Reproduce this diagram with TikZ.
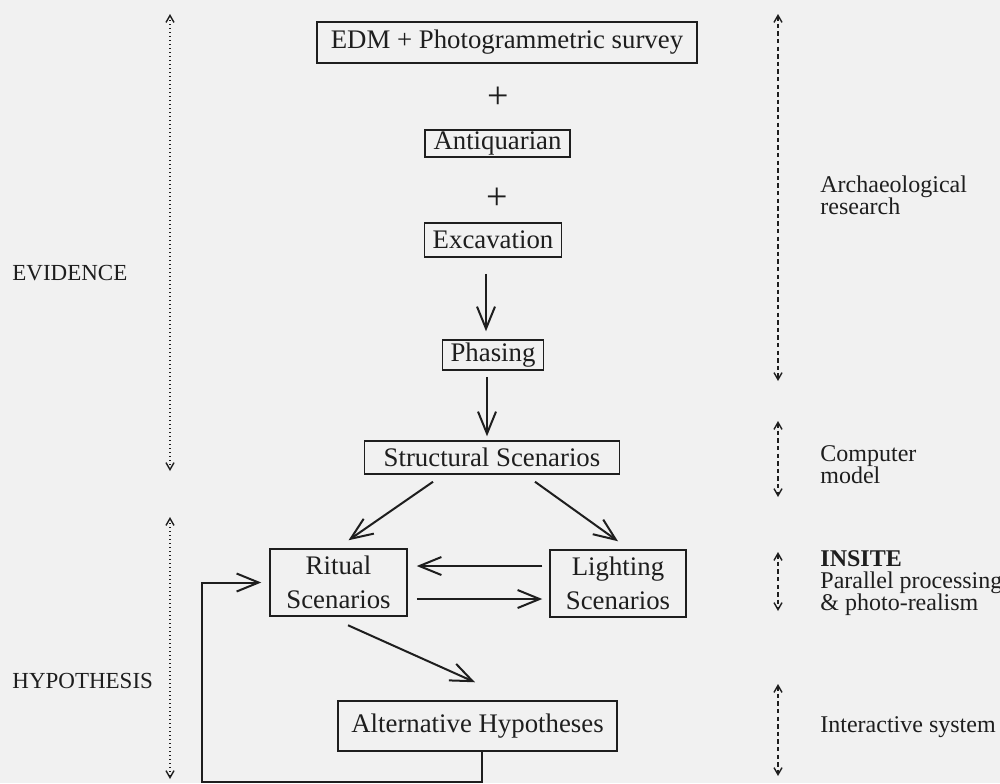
\documentclass[tikz,border=0pt]{standalone}
\usepackage{fontspec}
\setmainfont{Liberation Serif}
\usetikzlibrary{arrows.meta,calc}
\definecolor{bg}{RGB}{241,241,241}
\definecolor{ink}{RGB}{30,30,30}
\newcommand{\boxfont}{\fontsize{13.4}{17}\selectfont\lineskiplimit=-20pt}
\newcommand{\sidefont}{\fontsize{12}{11}\selectfont\lineskiplimit=-20pt}
\newcommand{\leftfont}{\fontsize{11.5}{12}\selectfont}
\tikzset{
  box/.style={draw=ink, line width=0.75pt, inner sep=0pt, font=\boxfont, text=ink, align=center},
  arr/.style={draw=ink, line width=1pt, -{Straight Barb[length=11pt,width=9pt]}},
  dotarr/.style={draw=ink, line width=0.8pt, dash pattern=on 0.6pt off 1.4pt,
    {Straight Barb[length=3.5pt,width=4pt,line width=0.7pt]}-{Straight Barb[length=3.5pt,width=4pt,line width=0.7pt]}},
  dasharr/.style={draw=ink, line width=0.8pt, dash pattern=on 2.2pt off 1.6pt,
    {Straight Barb[length=3.5pt,width=4pt,line width=0.7pt]}-{Straight Barb[length=3.5pt,width=4pt,line width=0.7pt]}},
  sidelabel/.style={anchor=base west, inner sep=0pt, font=\sidefont, text=ink, align=left},
  leftlabel/.style={anchor=base west, inner sep=0pt, font=\leftfont, text=ink},
  plus/.style={inner sep=0pt, font=\fontsize{19}{19}\selectfont, text=ink}
}
\begin{document}
\begin{tikzpicture}[x=0.5pt, y=-0.5pt]
\useasboundingbox (0,0) rectangle (1000,783);
\fill[bg] (0,0) rectangle (1000,783);

% boxes
\node[box, minimum width=190pt, minimum height=20.5pt] (EDM) at (507,42.5) {EDM + Photogrammetric survey};
\node[plus] (p1) at (498,98) {+};
\node[box, minimum width=72.5pt, minimum height=13.5pt] (AQ) at (497.5,143.5) {Antiquarian};
\node[plus] (p2) at (497,199) {+};
\node[box, minimum width=68.5pt, minimum height=17pt] (EX) at (493,240) {Excavation};
\node[box, minimum width=50.5pt, minimum height=15pt] (PH) at (493,355) {Phasing};
\node[box, minimum width=127.5pt, minimum height=16.5pt] (SS) at (492,457.5) {Structural Scenarios};
\node[box, minimum width=68.5pt, minimum height=33.5pt] (RS) at (338.5,582.5) {Ritual\\Scenarios};
\node[box, minimum width=68pt, minimum height=33.5pt] (LS) at (618,583.5) {Lighting\\Scenarios};
\node[box, minimum width=139.5pt, minimum height=25pt] (AH) at (477.5,726) {Alternative Hypotheses};

% connectors
\draw[arr] ($(EX.south)+(-7,16)$) -- ($(PH.north)+(-7,-8)$);
\draw[arr] ($(PH.south)+(-6,6)$) -- ($(SS.north)+(-5,-4)$);
\draw[arr] ($(SS.south)+(-59,7)$) -- ($(RS.north)+(10,-8)$);
\draw[arr] ($(SS.south)+(43,7)$) -- ($(LS.north)+(0,-8)$);
\draw[arr] ($(LS.west)+(-7,-17.5)$) -- ($(RS.east)+(9,-16.5)$);
\draw[arr] ($(RS.east)+(9,16.5)$) -- ($(LS.west)+(-7,15.5)$);
\draw[arr] ($(RS.south)+(9.5,8.5)$) -- ($(AH.north)+(-2.5,-18)$);
\coordinate (fb) at (202,782);
\draw[arr, shorten >=4pt] ($(AH.south)+(4.5,0)$) |- (fb) |- (RS.west);

% left span arrows
\coordinate (e1) at (170,14);
\coordinate (e2) at (170,471);
\coordinate (h1) at (170,517);
\coordinate (h2) at (170,779);
\draw[dotarr] (e1) -- (e2);
\draw[dotarr] (h1) -- (h2);
\node[leftlabel] (ev) at (12,280) {EVIDENCE};
\node[leftlabel] (hy) at (12,688) {HYPOTHESIS};

% right span arrows
\coordinate (a1) at (778,14);
\coordinate (a2) at (778,381);
\coordinate (c1) at (778,421);
\coordinate (c2) at (778,497);
\coordinate (i1) at (778,552);
\coordinate (i2) at (778,611);
\coordinate (s1) at (778,684);
\coordinate (s2) at (778,776);
\draw[dasharr] (a1) -- (a2);
\draw[dasharr] (c1) -- (c2);
\draw[dasharr] (i1) -- (i2);
\draw[dasharr] (s1) -- (s2);
\node[sidelabel] (ar) at (820,214) {Archaeological\\research};
\node[sidelabel] (cm) at (820,483) {Computer\\model};
\node[sidelabel] (in) at (820,610) {\textbf{INSITE}\\Parallel processing\\\& photo-realism};
\node[sidelabel] (is) at (820,732) {Interactive system};
\end{tikzpicture}
\end{document}
